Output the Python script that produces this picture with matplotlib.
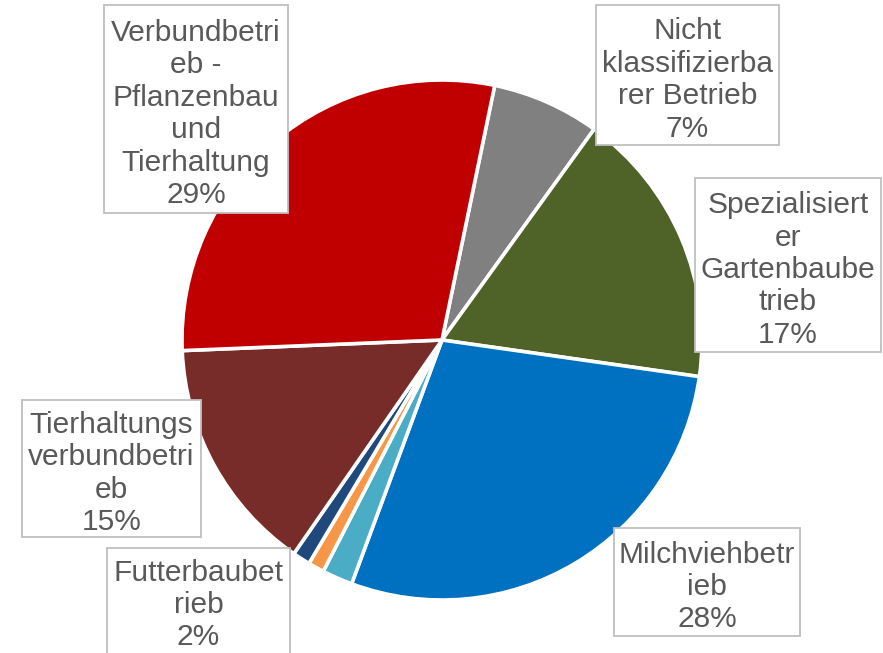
import matplotlib.pyplot as plt
from matplotlib.patches import Rectangle

# data (clockwise, starting at the red/gray border)
names = ["Nicht\nklassifizierba\nrer Betrieb",
         "Spezialisiert\ner\nGartenbaube\ntrieb",
         "Milchviehbetr\nieb",
         "Futterbaubet\nrieb",
         "Sonstige 1",
         "Sonstige 2",
         "Tierhaltungs\nverbundbetri\neb",
         "Verbundbetri\neb -\nPflanzenbau\nund\nTierhaltung"]
values = [6.7, 17.3, 28.4, 1.9, 1.0, 1.1, 14.7, 28.9]
show_label = [True, True, True, True, False, False, True, True]
colors = ["#808080", "#4F6228", "#0070C0", "#4BACC6", "#F79646", "#1F497D",
          "#772C2A", "#C00000"]

W, H = 883, 653
fig = plt.figure(figsize=(W / 100, H / 100), dpi=100)
ax = fig.add_axes([0, 0, 1, 1])

ax.pie(values, colors=colors, startangle=90 - 11.7, counterclock=False,
       center=(442, H - 340), radius=260, frame=True,
       wedgeprops=dict(edgecolor="white", linewidth=2.6))
ax.set_xlim(0, W)
ax.set_ylim(0, H)
ax.set_aspect("equal")
ax.axis("off")

# label boxes in pixel coords: left, top, right, bottom
boxes = [(596, 5, 779, 145),
         (695, 178, 881, 352),
         (614, 528, 800, 636),
         (107, 548, 290, 700),
         None, None,
         (22, 400, 201, 537),
         (104, 5, 288, 213)]
text_y = [None, None, None, 605, None, None, None, None]

total = sum(values)
for name, v, show, box, ty in zip(names, values, show_label, boxes, text_y):
    if not show:
        continue
    x0, y0, x1, y1 = box
    ax.add_patch(Rectangle((x0, H - y1), x1 - x0, y1 - y0, facecolor="white",
                           edgecolor="#BFBFBF", linewidth=1.3, zorder=3))
    cy = (y0 + y1) / 2 + 5 if ty is None else ty
    ax.text((x0 + x1) / 2, H - cy, f"{name}\n{round(v / total * 100)}%",
            ha="center", va="center", fontsize=21.5, color="#595959",
            family="Liberation Sans", linespacing=1.2, zorder=4)

fig.savefig("out.png", dpi=100)
